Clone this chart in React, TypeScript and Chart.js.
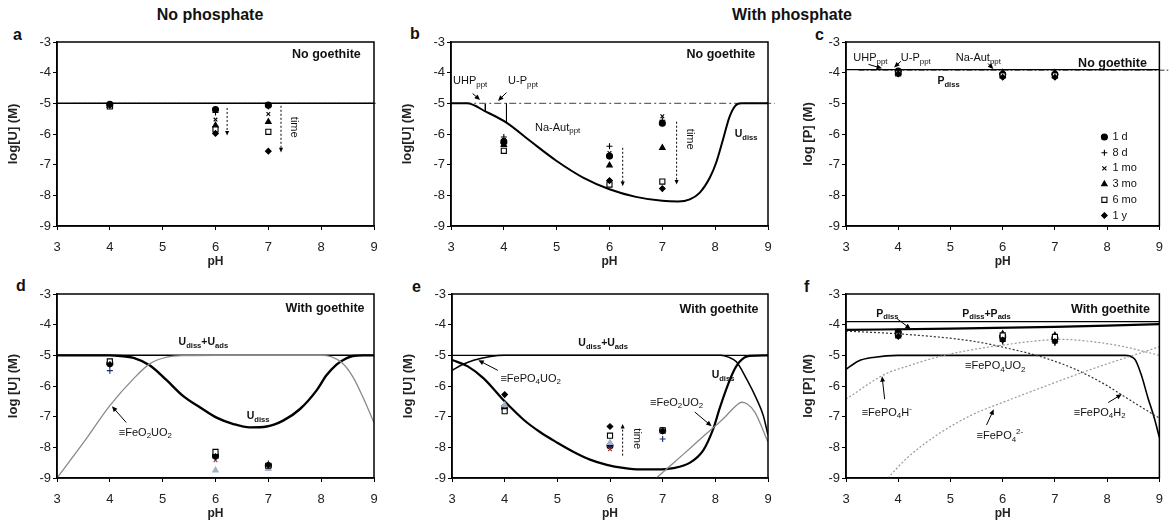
import React, { useEffect, useRef } from 'react';
import { Chart, registerables } from 'chart.js';

Chart.register(...registerables);

const FONT = '"Liberation Sans", Arial, Helvetica, sans-serif';
Chart.defaults.font.family = FONT;

// ---------- shared sample grid ----------
const PH_SAMPLES = [4, 6, 7];
const SERIES = ['1 d', '8 d', '1 mo', '3 mo', '6 mo', '1 y'];

// ---------- panel a : no phosphate, no goethite (log[U]) ----------
const A_POINTS = [
  [-5.03, -5.2, -5.06], // 1 d
  [-5.05, -5.3, -5.1], // 8 d
  [-5.06, -5.53, -5.35], // 1 mo
  [-5.08, -5.72, -5.6], // 3 mo
  [-5.1, -5.85, -5.93], // 6 mo
  [-5.07, -5.98, -6.56], // 1 y
];
const A_TOTAL_X = [3, 9];
const A_TOTAL_Y = [-5, -5];
const A_DASH_X = [3.3, 9.05];
const A_DASH_Y = [-5, -5];

// ---------- panel b : phosphate, no goethite (log[U]) ----------
const B_POINTS = [
  [-6.25, -6.72, -5.65],
  [-6.1, -6.4, -5.55],
  [-6.2, -6.62, -5.42],
  [-6.35, -7.02, -6.45],
  [-6.55, -7.65, -7.55],
  [-6.3, -7.52, -7.78],
];
const B_UDISS_X = [3, 3.3, 3.67, 4.05, 4.5, 5.0, 5.5, 6.0, 6.5, 7.0, 7.3, 7.52, 7.71, 7.9, 8.02, 8.15, 8.27, 8.38, 8.5, 9];
const B_UDISS_Y = [-5, -5, -5.28, -5.63, -6.23, -6.88, -7.42, -7.8, -8.05, -8.18, -8.2, -8.13, -7.91, -7.42, -6.93, -6.17, -5.45, -5.08, -5.0, -5];
const B_DASH_X = [3.25, 9.13];
const B_DASH_Y = [-5, -5];
const B_UHP_X = [3.65, 3.65];
const B_UHP_Y = [-5, -5.27];
const B_UP_X = [4.05, 4.05];
const B_UP_Y = [-5, -5.63];

// ---------- panel c : phosphate, no goethite (log[P]) ----------
const C_POINTS = [
  [-3.95, -4.05, -4.05],
  [-3.97, -4.03, -4.03],
  [-3.98, -4.07, -4.06],
  [-4.0, -4.0, -4.0],
  [-4.02, -4.09, -4.09],
  [-4.04, -4.15, -4.15],
];
const C_TOTAL_X = [3, 9];
const C_TOTAL_Y = [-3.9, -3.9];
const C_DASH_X = [3.24, 9.17];
const C_DASH_Y = [-3.92, -3.92];

// ---------- panel d : no phosphate, goethite (log[U]) ----------
const D_POINTS = [
  [-5.27, -8.28, -8.6],
  [-5.5, -8.35, -8.53],
  [-5.3, -8.42, -8.58],
  [-5.25, -8.75, -8.7],
  [-5.2, -8.15, -8.6],
  [-5.3, -8.3, -8.58],
];
const D_TOTAL_X = [3, 9];
const D_TOTAL_Y = [-5, -5];
const D_UDISS_X = [3, 3.5, 4.0, 4.2, 4.45, 4.76, 5.08, 5.39, 5.71, 6.02, 6.34, 6.65, 6.97, 7.28, 7.6, 7.91, 8.1, 8.29, 8.42, 8.6, 8.8, 9];
const D_UDISS_Y = [-5, -5, -5.0, -5.02, -5.08, -5.33, -5.82, -6.33, -6.7, -7.03, -7.24, -7.35, -7.32, -7.13, -6.75, -6.15, -5.65, -5.3, -5.15, -5.02, -5.0, -5];
const D_FEO2UO2_X = [3, 3.5, 4.0, 4.45, 4.76, 5.08, 5.4, 6, 7, 8.0, 8.2, 8.4, 8.6, 8.8, 9];
const D_FEO2UO2_Y = [-9, -7.85, -6.64, -5.76, -5.27, -5.06, -5.01, -5.0, -5.0, -5.0, -5.05, -5.25, -5.7, -6.4, -7.2];

// ---------- panel e : phosphate, goethite (log[U]) ----------
const E_POINTS = [
  [-6.7, -7.95, -7.45],
  [-6.65, -7.98, -7.73],
  [-6.7, -8.06, -7.48],
  [-6.62, -7.85, -7.45],
  [-6.82, -7.62, -7.45],
  [-6.28, -7.32, -7.47],
];
const E_TOTAL_X = [3, 9];
const E_TOTAL_Y = [-5, -5];
const E_FEPO4UO2_X = [3, 3.2, 3.41, 3.73, 4.0, 5, 7, 8.1, 8.25, 8.4, 8.59, 8.78, 8.91, 9];
const E_FEPO4UO2_Y = [-5.49, -5.3, -5.16, -5.04, -5.0, -5.0, -5.0, -5.0, -5.06, -5.21, -5.76, -6.41, -6.96, -7.6];
const E_UDISS_X = [3, 3.3, 3.6, 4.0, 4.36, 4.67, 5.0, 5.31, 5.62, 5.94, 6.25, 6.57, 6.88, 7.2, 7.52, 7.77, 7.96, 8.08, 8.21, 8.34, 8.46, 8.65, 9];
const E_UDISS_Y = [-5.15, -5.36, -5.75, -6.5, -7.1, -7.5, -7.85, -8.15, -8.4, -8.57, -8.67, -8.72, -8.72, -8.68, -8.5, -8.1, -7.4, -6.74, -6.09, -5.54, -5.21, -5.02, -5.0];
const E_FEO2UO2_X = [6.88, 7.2, 7.5, 7.8, 8.0, 8.15, 8.3, 8.42, 8.5, 8.6, 8.75, 9];
const E_FEO2UO2_Y = [-9, -8.52, -8.06, -7.6, -7.3, -7.07, -6.8, -6.6, -6.53, -6.58, -6.85, -7.83];

// ---------- panel f : phosphate, goethite (log[P]) ----------
const F_POINTS = [
  [-4.25, -4.4, -4.45],
  [-4.22, -4.55, -4.6],
  [-4.3, -4.35, -4.4],
  [-4.3, -4.3, -4.35],
  [-4.35, -4.35, -4.4],
  [-4.38, -4.5, -4.55],
];
const F_TOTAL_X = [3, 9];
const F_TOTAL_Y = [-3.9, -3.9];
const F_PDISS_X = [3, 5, 7, 8, 9];
const F_PDISS_Y = [-4.17, -4.13, -4.07, -4.03, -3.98];
const F_FEPO4UO2_X = [3, 3.23, 3.55, 3.99, 5, 7, 8.34, 8.53, 8.65, 8.78, 8.9, 9];
const F_FEPO4UO2_Y = [-5.46, -5.19, -5.06, -5.0, -5.0, -5.0, -5.0, -5.13, -5.62, -6.38, -7.03, -7.68];
const F_FEPO4H2_X = [3, 4.18, 5.44, 6.07, 6.7, 7.33, 7.96, 8.27, 8.59, 9];
const F_FEPO4H2_Y = [-4.21, -4.32, -4.54, -4.76, -5.03, -5.41, -5.95, -6.28, -6.62, -7.05];
const F_FEPO4H_X = [3, 3.74, 4.18, 4.81, 5.44, 6.07, 6.7, 7.14, 7.64, 8.27, 9];
const F_FEPO4H_Y = [-6.43, -5.62, -5.35, -5.03, -4.81, -4.65, -4.52, -4.48, -4.54, -4.7, -5.0];
const F_FEPO4_X = [3.8, 4.18, 4.81, 5.44, 6.07, 6.7, 7.33, 7.96, 8.59, 9];
const F_FEPO4_Y = [-9.0, -8.33, -7.52, -6.92, -6.49, -6.08, -5.68, -5.3, -4.95, -4.72];

const X_TICKS = [3, 9];
const Y_TICKS = [-9, -3];

// ---------- styles ----------
const MARKERS = ['circle', 'cross', 'crossRot', 'triangle', 'rect', 'rectRot'];
const RADII = [3, 3, 2.6, 3.2, 3.6, 2.8];
const PLAIN = {
  fill: ['#000', '#000', '#000', '#000', '#fff', '#000'],
  stroke: ['#000', '#000', '#000', '#000', '#000', '#000'],
};
const COLORED = {
  fill: ['#000', '#1c2a6e', '#a33030', '#a3b1c4', '#fff', '#000'],
  stroke: ['#000', '#1c2a6e', '#a33030', '#a3b1c4', '#000', '#000'],
};

type LineCfg = { xs: number[]; ys: number[]; color: string; width: number; dash?: number[]; smooth?: boolean; ext?: boolean };
type TextCfg = { s: string; x: number; y: number; align?: 'left' | 'right' | 'center'; bold?: boolean; size?: number; rot?: boolean };
type ArrowCfg = { x1: number; y1: number; x2: number; y2: number; dashed?: boolean };
type PanelCfg = {
  id: string; left: number; top: number; w: number; h: number; padRight: number;
  yTitle: string; yTitlePad: number; points: number[][]; colored: boolean;
  lines: LineCfg[]; texts: TextCfg[]; arrows: ArrowCfg[]; legend?: boolean;
};

const BOLD_LBL = 12.5;
const SUBLBL = 10.5;
const NORM = 11;

const PANELS: PanelCfg[] = [
  {
    id: 'a', left: 0, top: 22, w: 390, h: 250, padRight: 16, yTitle: 'log[U] (M)', yTitlePad: 6,
    points: A_POINTS, colored: false,
    lines: [
      { xs: A_DASH_X, ys: A_DASH_Y, color: '#777', width: 1.2, dash: [3, 2], ext: true },
      { xs: A_TOTAL_X, ys: A_TOTAL_Y, color: '#000', width: 1.5 },
    ],
    texts: [
      { s: 'No goethite', x: 8.75, y: -3.41, align: 'right', bold: true, size: BOLD_LBL },
      { s: 'time', x: 7.48, y: -5.78, rot: true, align: 'center', size: NORM },
    ],
    arrows: [
      { x1: 6.22, y1: -5.15, x2: 6.22, y2: -6.05, dashed: true },
      { x1: 7.24, y1: -5.08, x2: 7.24, y2: -6.6, dashed: true },
    ],
  },
  {
    id: 'b', left: 394, top: 22, w: 390, h: 250, padRight: 16, yTitle: 'log[U] (M)', yTitlePad: 6,
    points: B_POINTS, colored: false,
    lines: [
      { xs: B_UHP_X, ys: B_UHP_Y, color: '#000', width: 1 },
      { xs: B_UP_X, ys: B_UP_Y, color: '#000', width: 1 },
      { xs: B_DASH_X, ys: B_DASH_Y, color: '#666', width: 1.2, dash: [7, 3, 2, 3], ext: true },
      { xs: B_UDISS_X, ys: B_UDISS_Y, color: '#000', width: 2, smooth: true },
    ],
    texts: [
      { s: 'No goethite', x: 8.76, y: -3.4, align: 'right', bold: true, size: BOLD_LBL },
      { s: 'UHP_{ppt}', x: 3.04, y: -4.27, size: NORM },
      { s: 'U-P_{ppt}', x: 4.08, y: -4.27, size: NORM },
      { s: 'Na-Aut_{ppt}', x: 4.59, y: -5.79, size: NORM },
      { s: 'U_{diss}', x: 8.37, y: -6.01, bold: true, size: SUBLBL },
      { s: 'time', x: 7.52, y: -6.17, rot: true, align: 'center', size: NORM },
    ],
    arrows: [
      { x1: 3.41, y1: -4.68, x2: 3.55, y2: -4.89 },
      { x1: 4.05, y1: -4.65, x2: 3.89, y2: -4.92 },
      { x1: 6.25, y1: -6.45, x2: 6.25, y2: -7.7, dashed: true },
      { x1: 7.27, y1: -5.6, x2: 7.27, y2: -7.65, dashed: true },
    ],
  },
  {
    id: 'c', left: 789, top: 22, w: 384, h: 250, padRight: 10, yTitle: 'log [P] (M)', yTitlePad: 12,
    points: C_POINTS, colored: false, legend: true,
    lines: [
      { xs: C_DASH_X, ys: C_DASH_Y, color: '#777', width: 1.5, dash: [6, 2, 2, 2], ext: true },
      { xs: C_TOTAL_X, ys: C_TOTAL_Y, color: '#000', width: 1.3 },
    ],
    texts: [
      { s: 'No goethite', x: 8.76, y: -3.71, align: 'right', bold: true, size: BOLD_LBL },
      { s: 'UHP_{ppt}', x: 3.14, y: -3.53, size: NORM },
      { s: 'U-P_{ppt}', x: 4.05, y: -3.53, size: NORM },
      { s: 'Na-Aut_{ppt}', x: 5.1, y: -3.53, size: NORM },
      { s: 'P_{diss}', x: 4.75, y: -4.28, bold: true, size: SUBLBL },
    ],
    arrows: [
      { x1: 3.43, y1: -3.73, x2: 3.69, y2: -3.86 },
      { x1: 4.05, y1: -3.63, x2: 3.92, y2: -3.83 },
      { x1: 5.72, y1: -3.7, x2: 5.82, y2: -3.88 },
    ],
  },
  {
    id: 'd', left: 0, top: 274, w: 390, h: 250, padRight: 16, yTitle: 'log [U] (M)', yTitlePad: 6,
    points: D_POINTS, colored: true,
    lines: [
      { xs: D_TOTAL_X, ys: D_TOTAL_Y, color: '#000', width: 1.5 },
      { xs: D_UDISS_X, ys: D_UDISS_Y, color: '#000', width: 2.4, smooth: true },
      { xs: D_FEO2UO2_X, ys: D_FEO2UO2_Y, color: '#8a8a8a', width: 1.3, smooth: true },
    ],
    texts: [
      { s: 'With goethite', x: 8.82, y: -3.46, align: 'right', bold: true, size: BOLD_LBL },
      { s: 'U_{diss}+U_{ads}', x: 5.77, y: -4.58, align: 'center', bold: true, size: SUBLBL },
      { s: 'U_{diss}', x: 6.59, y: -6.99, bold: true, size: SUBLBL },
      { s: '≡FeO_{2}UO_{2}', x: 4.17, y: -7.52, size: NORM },
    ],
    arrows: [{ x1: 4.31, y1: -7.19, x2: 4.04, y2: -6.66 }],
  },
  {
    id: 'e', left: 395, top: 274, w: 390, h: 250, padRight: 17, yTitle: 'log [U] (M)', yTitlePad: 6,
    points: E_POINTS, colored: true,
    lines: [
      { xs: E_TOTAL_X, ys: E_TOTAL_Y, color: '#000', width: 1.3 },
      { xs: E_FEPO4UO2_X, ys: E_FEPO4UO2_Y, color: '#000', width: 1.5, smooth: true },
      { xs: E_UDISS_X, ys: E_UDISS_Y, color: '#000', width: 2.2, smooth: true },
      { xs: E_FEO2UO2_X, ys: E_FEO2UO2_Y, color: '#8a8a8a', width: 1.3, smooth: true },
    ],
    texts: [
      { s: 'With goethite', x: 8.82, y: -3.5, align: 'right', bold: true, size: BOLD_LBL },
      { s: 'U_{diss}+U_{ads}', x: 5.87, y: -4.61, align: 'center', bold: true, size: SUBLBL },
      { s: '≡FePO_{4}UO_{2}', x: 3.92, y: -5.76, size: NORM },
      { s: 'U_{diss}', x: 7.93, y: -5.65, bold: true, size: SUBLBL },
      { s: '≡FeO_{2}UO_{2}', x: 6.76, y: -6.54, size: NORM },
      { s: 'time', x: 6.51, y: -7.72, rot: true, align: 'center', size: NORM },
    ],
    arrows: [
      { x1: 3.87, y1: -5.49, x2: 3.5, y2: -5.16 },
      { x1: 7.61, y1: -6.85, x2: 7.93, y2: -7.31 },
      { x1: 6.24, y1: -8.27, x2: 6.24, y2: -7.24, dashed: true },
    ],
  },
  {
    id: 'f', left: 789, top: 274, w: 384, h: 250, padRight: 10, yTitle: 'log [P] (M)', yTitlePad: 12,
    points: F_POINTS, colored: false,
    lines: [
      { xs: F_TOTAL_X, ys: F_TOTAL_Y, color: '#000', width: 1.2 },
      { xs: F_PDISS_X, ys: F_PDISS_Y, color: '#000', width: 2.2, smooth: true },
      { xs: F_FEPO4UO2_X, ys: F_FEPO4UO2_Y, color: '#000', width: 1.6, smooth: true },
      { xs: F_FEPO4H2_X, ys: F_FEPO4H2_Y, color: '#333', width: 1.2, dash: [2, 2], smooth: true },
      { xs: F_FEPO4H_X, ys: F_FEPO4H_Y, color: '#999', width: 1.2, dash: [2, 2], smooth: true },
      { xs: F_FEPO4_X, ys: F_FEPO4_Y, color: '#999', width: 1.2, dash: [2, 2], smooth: true },
    ],
    texts: [
      { s: 'With goethite', x: 8.82, y: -3.51, align: 'right', bold: true, size: BOLD_LBL },
      { s: 'P_{diss}', x: 3.58, y: -3.65, bold: true, size: SUBLBL },
      { s: 'P_{diss}+P_{ads}', x: 5.69, y: -3.65, align: 'center', bold: true, size: SUBLBL },
      { s: '≡FePO_{4}UO_{2}', x: 5.28, y: -5.35, size: NORM },
      { s: '≡FePO_{4}H^{-}', x: 3.3, y: -6.87, size: NORM },
      { s: '≡FePO_{4}^{2-}', x: 5.5, y: -7.63, size: NORM },
      { s: '≡FePO_{4}H_{2}', x: 7.36, y: -6.87, size: NORM },
    ],
    arrows: [
      { x1: 3.98, y1: -3.81, x2: 4.24, y2: -4.14 },
      { x1: 3.74, y1: -6.43, x2: 3.69, y2: -5.68 },
      { x1: 5.69, y1: -7.27, x2: 5.83, y2: -6.76 },
      { x1: 8.02, y1: -6.54, x2: 8.28, y2: -6.27 },
    ],
  },
];

// ---------- drawing helpers ----------
type Seg = { t: string; k: 'n' | 'sub' | 'sup' };
function parseRich(s: string): Seg[] {
  const out: Seg[] = [];
  let buf = '';
  let i = 0;
  while (i < s.length) {
    const c = s[i];
    if ((c === '_' || c === '^') && s[i + 1] === '{') {
      if (buf) { out.push({ t: buf, k: 'n' }); buf = ''; }
      const end = s.indexOf('}', i);
      out.push({ t: s.slice(i + 2, end), k: c === '_' ? 'sub' : 'sup' });
      i = end + 1;
    } else {
      buf += c;
      i++;
    }
  }
  if (buf) out.push({ t: buf, k: 'n' });
  return out;
}

function drawRich(ctx: CanvasRenderingContext2D, text: string, x: number, y: number, size: number, bold: boolean, align: string) {
  const segs = parseRich(text);
  const f = (k: string) => `${bold ? 'bold ' : ''}${k === 'n' ? size : Math.round(size * 0.72 * 10) / 10}px ${FONT}`;
  let w = 0;
  for (const s of segs) { ctx.font = f(s.k); w += ctx.measureText(s.t).width; }
  let cx = align === 'right' ? x - w : align === 'center' ? x - w / 2 : x;
  ctx.textAlign = 'left';
  ctx.textBaseline = 'middle';
  for (const s of segs) {
    ctx.font = f(s.k);
    const dy = s.k === 'sub' ? size * 0.32 : s.k === 'sup' ? -size * 0.35 : 0;
    ctx.fillText(s.t, cx, y + dy);
    cx += ctx.measureText(s.t).width;
  }
}

function drawArrow(ctx: CanvasRenderingContext2D, x1: number, y1: number, x2: number, y2: number, dashed: boolean) {
  const head = dashed ? 5 : 6;
  const ang = Math.atan2(y2 - y1, x2 - x1);
  const bx = x2 - Math.cos(ang) * head * 0.8;
  const by = y2 - Math.sin(ang) * head * 0.8;
  ctx.save();
  ctx.strokeStyle = '#000';
  ctx.fillStyle = '#000';
  ctx.lineWidth = 1;
  ctx.setLineDash(dashed ? [2, 2] : []);
  ctx.beginPath();
  ctx.moveTo(x1, y1);
  ctx.lineTo(bx, by);
  ctx.stroke();
  ctx.setLineDash([]);
  ctx.beginPath();
  ctx.moveTo(x2, y2);
  ctx.lineTo(x2 - head * Math.cos(ang - 0.42), y2 - head * Math.sin(ang - 0.42));
  ctx.lineTo(x2 - head * Math.cos(ang + 0.42), y2 - head * Math.sin(ang + 0.42));
  ctx.closePath();
  ctx.fill();
  ctx.restore();
}

function drawMarker(ctx: CanvasRenderingContext2D, style: string, x: number, y: number, r: number, fill: string, stroke: string) {
  ctx.save();
  ctx.fillStyle = fill;
  ctx.strokeStyle = stroke;
  ctx.lineWidth = 1.1;
  ctx.beginPath();
  if (style === 'circle') {
    ctx.arc(x, y, r, 0, Math.PI * 2);
    ctx.fill();
    ctx.stroke();
  } else if (style === 'cross') {
    ctx.moveTo(x - r, y); ctx.lineTo(x + r, y);
    ctx.moveTo(x, y - r); ctx.lineTo(x, y + r);
    ctx.stroke();
  } else if (style === 'crossRot') {
    const d = r * 0.8;
    ctx.moveTo(x - d, y - d); ctx.lineTo(x + d, y + d);
    ctx.moveTo(x + d, y - d); ctx.lineTo(x - d, y + d);
    ctx.stroke();
  } else if (style === 'triangle') {
    ctx.moveTo(x, y - r);
    ctx.lineTo(x + r * 0.866, y + r * 0.5);
    ctx.lineTo(x - r * 0.866, y + r * 0.5);
    ctx.closePath();
    ctx.fill();
    ctx.stroke();
  } else if (style === 'rect') {
    const s = r * Math.SQRT1_2;
    ctx.rect(x - s, y - s, 2 * s, 2 * s);
    ctx.fill();
    ctx.stroke();
  } else {
    ctx.moveTo(x, y - r); ctx.lineTo(x + r, y); ctx.lineTo(x, y + r); ctx.lineTo(x - r, y);
    ctx.closePath();
    ctx.fill();
    ctx.stroke();
  }
  ctx.restore();
}

const framePlugin = {
  id: 'frame',
  afterDatasetsDraw(chart: any) {
    const { ctx, chartArea: a } = chart;
    ctx.save();
    ctx.strokeStyle = '#000';
    ctx.lineWidth = 1.5;
    ctx.strokeRect(a.left, a.top, a.right - a.left, a.bottom - a.top);
    ctx.restore();
  },
};

function annotPlugin(p: PanelCfg) {
  return {
    id: 'annot_' + p.id,
    afterDraw(chart: any) {
      const { ctx, chartArea: a } = chart;
      const xs = chart.scales.x;
      const ys = chart.scales.y;
      ctx.save();
      ctx.fillStyle = '#111';
      for (const t of p.texts) {
        const px = xs.getPixelForValue(t.x);
        const py = ys.getPixelForValue(t.y);
        if (t.rot) {
          ctx.save();
          ctx.translate(px, py);
          ctx.rotate(Math.PI / 2);
          drawRich(ctx, t.s, 0, 0, t.size ?? NORM, !!t.bold, 'center');
          ctx.restore();
        } else {
          drawRich(ctx, t.s, px, py, t.size ?? NORM, !!t.bold, t.align ?? 'left');
        }
      }
      for (const ar of p.arrows) {
        drawArrow(ctx, xs.getPixelForValue(ar.x1), ys.getPixelForValue(ar.y1), xs.getPixelForValue(ar.x2), ys.getPixelForValue(ar.y2), !!ar.dashed);
      }
      if (p.legend) {
        const pal = PLAIN;
        SERIES.forEach((name, i) => {
          const y = a.top + 95 + i * 15.7;
          drawMarker(ctx, MARKERS[i], a.right - 55, y, RADII[i], pal.fill[i], pal.stroke[i]);
          ctx.fillStyle = '#111';
          ctx.font = `11px ${FONT}`;
          ctx.textAlign = 'left';
          ctx.textBaseline = 'middle';
          ctx.fillText(name, a.right - 47, y);
        });
      }
      ctx.restore();
    },
  };
}

function buildConfig(p: PanelCfg): any {
  const pal = p.colored ? COLORED : PLAIN;
  const pointSets = p.points.map((vals, si) => ({
    label: SERIES[si],
    data: PH_SAMPLES.map((x, i) => ({ x, y: vals[i] })),
    showLine: false,
    pointStyle: MARKERS[si],
    pointRadius: RADII[si],
    pointHoverRadius: RADII[si],
    pointBackgroundColor: pal.fill[si],
    pointBorderColor: pal.stroke[si],
    pointBorderWidth: 1.1,
  }));
  const lineSets = p.lines.map((l) => {
    const ds: any = {
      data: l.xs.map((x, i) => ({ x, y: l.ys[i] })),
      showLine: true,
      pointRadius: 0,
      pointHoverRadius: 0,
      borderColor: l.color,
      borderWidth: l.width,
      borderDash: l.dash ?? [],
      tension: 0,
      cubicInterpolationMode: l.smooth ? 'monotone' : 'default',
    };
    if (l.ext) ds.clip = false;
    return ds;
  });
  const tickFont = { size: 13 };
  return {
    type: 'scatter',
    // the first dataset is painted last: later sampling times sit on top of earlier ones
    data: { datasets: [...pointSets.reverse(), ...lineSets.reverse()] },
    options: {
      animation: false,
      responsive: false,
      devicePixelRatio: 1,
      events: [],
      layout: { padding: { top: 20, right: p.padRight, left: 0, bottom: 0 } },
      plugins: { legend: { display: false }, tooltip: { enabled: false } },
      scales: {
        x: {
          type: 'linear', min: X_TICKS[0], max: X_TICKS[1],
          ticks: { stepSize: 1, font: tickFont, color: '#222', padding: 10, maxRotation: 0 },
          grid: { display: true, drawOnChartArea: false, drawTicks: true, tickLength: 4, color: '#000', lineWidth: 1 },
          border: { display: true, color: '#000', width: 1.5 },
          title: { display: true, text: 'pH', font: { size: 12, weight: 'bold' }, color: '#222', padding: { top: 0, bottom: 3 } },
          afterFit: (s: any) => { s.height = 46; },
        },
        y: {
          type: 'linear', min: Y_TICKS[0], max: Y_TICKS[1],
          ticks: { stepSize: 1, font: tickFont, color: '#222', padding: 2 },
          grid: { display: true, drawOnChartArea: false, drawTicks: true, tickLength: 4, color: '#000', lineWidth: 1 },
          border: { display: true, color: '#000', width: 1.5 },
          title: { display: true, text: p.yTitle, font: { size: 13, weight: 'bold' }, color: '#222', padding: { top: p.yTitlePad, bottom: 0 } },
          afterFit: (s: any) => { s.width = 57; },
        },
      },
    },
    plugins: [framePlugin, annotPlugin(p)],
  };
}

function Panel({ cfg }: { cfg: PanelCfg }) {
  const ref = useRef<HTMLCanvasElement>(null);
  useEffect(() => {
    const chart = new Chart(ref.current as HTMLCanvasElement, buildConfig(cfg));
    return () => chart.destroy();
  }, [cfg]);
  return (
    <canvas
      ref={ref}
      width={cfg.w}
      height={cfg.h}
      style={{ position: 'absolute', left: cfg.left, top: cfg.top, width: cfg.w, height: cfg.h }}
    />
  );
}

const LETTERS = [
  { t: 'a', x: 13, y: 26.5 },
  { t: 'b', x: 410, y: 25.8 },
  { t: 'c', x: 815, y: 26.5 },
  { t: 'd', x: 16, y: 278 },
  { t: 'e', x: 412, y: 278.5 },
  { t: 'f', x: 804, y: 278.5 },
];

export default function App() {
  const txt = (extra: React.CSSProperties): React.CSSProperties => ({
    position: 'absolute', font: `bold 16px ${FONT}`, lineHeight: '16px', whiteSpace: 'nowrap', color: '#111', ...extra,
  });
  return (
    <div style={{ position: 'absolute', left: 0, top: 0, width: 1173, height: 527, background: '#fff', overflow: 'hidden' }}>
      <div style={txt({ left: 210, top: 6.5, transform: 'translateX(-50%)' })}>No phosphate</div>
      <div style={txt({ left: 792, top: 6.5, transform: 'translateX(-50%)' })}>With phosphate</div>
      {LETTERS.map((l) => (
        <div key={l.t} style={txt({ left: l.x, top: l.y })}>{l.t}</div>
      ))}
      {PANELS.map((p) => (
        <Panel key={p.id} cfg={p} />
      ))}
    </div>
  );
}
